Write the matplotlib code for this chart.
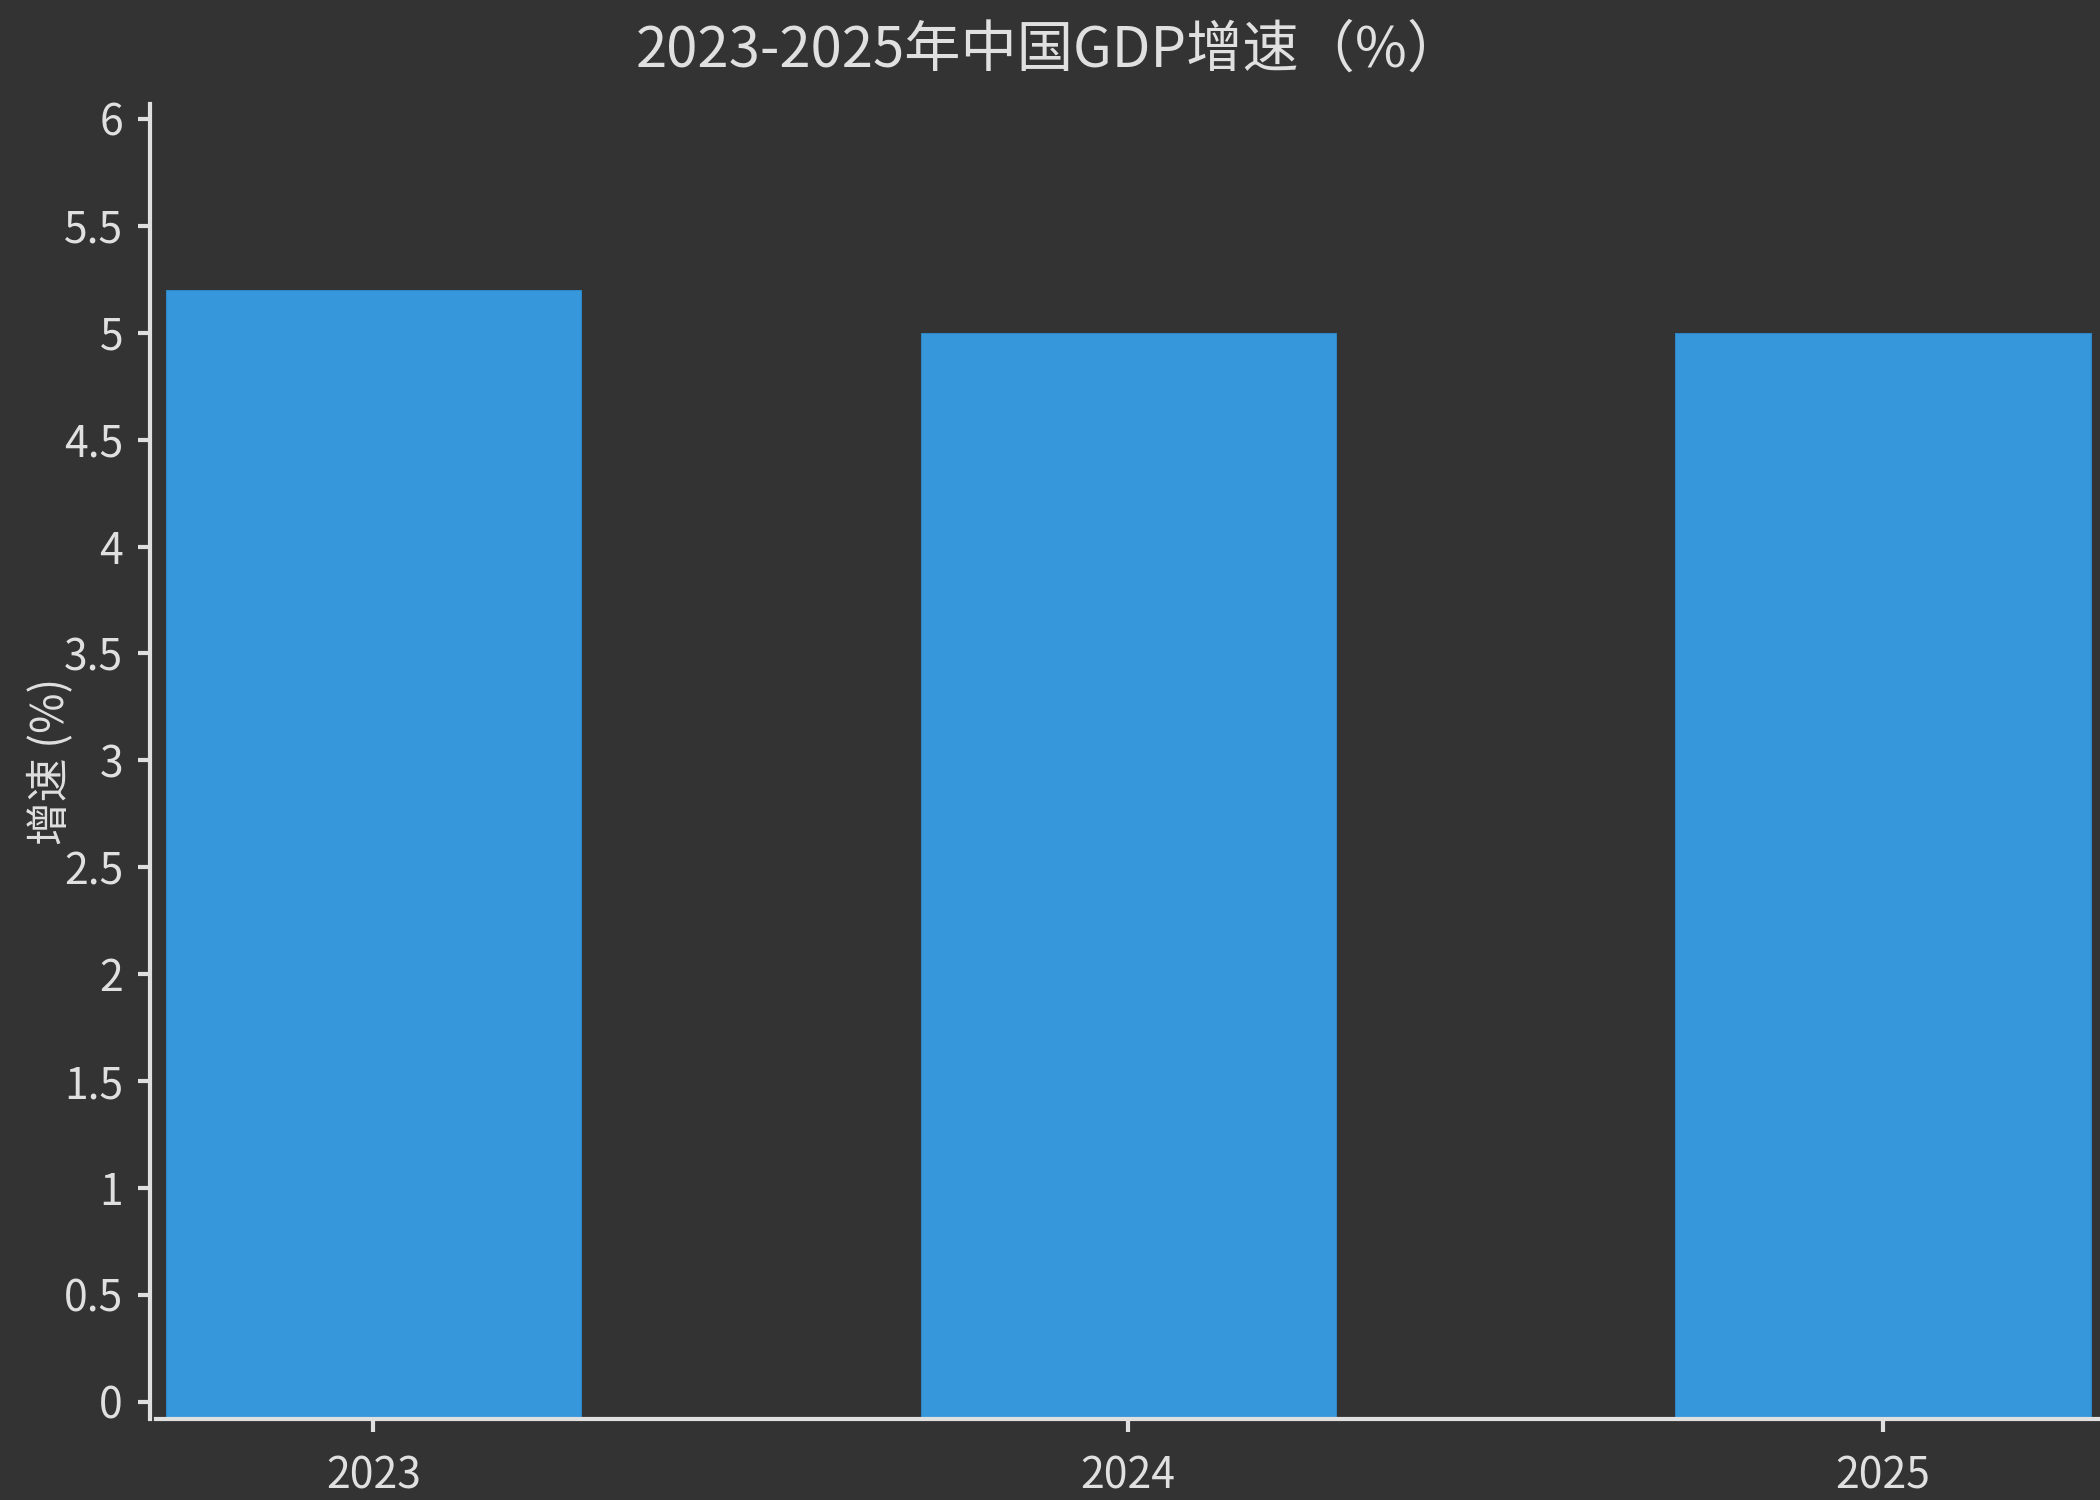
import numpy as np
import matplotlib
matplotlib.use('Agg')
import matplotlib.pyplot as plt

plt.rcParams['font.family'] = ['Noto Sans CJK SC', 'DejaVu Sans']

# data
years = ['2023', '2024', '2025']
growth = np.array([5.2, 5.0, 5.0])
y_ticks = [0, 0.5, 1, 1.5, 2, 2.5, 3, 3.5, 4, 4.5, 5, 5.5, 6]
y_tick_labels = ['0', '0.5', '1', '1.5', '2', '2.5', '3', '3.5', '4', '4.5', '5', '5.5', '6']

BG = '#333333'
FG = '#e0e0e0'
BAR = '#3698db'
BASE = -0.08  # axis floor sits a bit below zero

fig = plt.figure(figsize=(14, 10), dpi=150, facecolor=BG)
ax = fig.add_axes([0.0745, 0.054, 0.9255, 0.8767])
ax.set_facecolor(BG)

x = np.arange(len(years))
ax.bar(x, growth - BASE, bottom=BASE, width=0.55, color=BAR,
       edgecolor='#2f86c4', linewidth=0.5)

ax.set_xlim(-0.2875, 2.2875)
ax.set_ylim(BASE, 6.07)
ax.set_xticks(x)
ax.set_xticklabels(years)
ax.set_yticks(y_ticks)
ax.set_yticklabels(y_tick_labels)

for side in ['top', 'right']:
    ax.spines[side].set_visible(False)
ax.spines['left'].set_position(('outward', 3))
for side in ['left', 'bottom']:
    ax.spines[side].set_color(FG)
    ax.spines[side].set_linewidth(2)

ax.tick_params(axis='both', colors=FG, labelcolor=FG, length=6, width=2,
               labelsize=20.5)
ax.tick_params(axis='x', pad=11)
ax.tick_params(axis='y', pad=7)

ax.set_ylabel('增速 (%)', color=FG, fontsize=21)
ax.yaxis.set_label_coords(-0.043, 0.5)

fig.text(0.5, 0.966, '2023-2025年中国GDP增速（%）', ha='center', va='center',
         color=FG, fontsize=27)

fig.savefig('out.png', dpi=150, facecolor=BG)
